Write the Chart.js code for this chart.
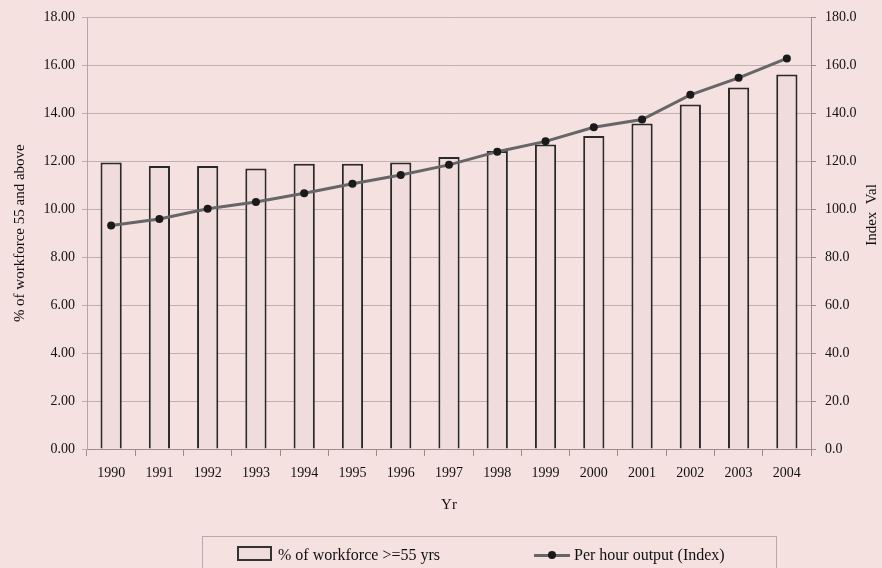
<!DOCTYPE html>
<html>
<head>
<meta charset="utf-8">
<script src="https://cdn.jsdelivr.net/npm/chart.js@4"></script>
<style>
  html, body { margin: 0; padding: 0; background: #f5e1e0; }
  #wrap { position: relative; width: 882px; height: 568px; }
  #legend {
    position: absolute; left: 202px; top: 536px; width: 575px; height: 40px;
    border: 1px solid #b9aaaa; box-sizing: border-box;
    font-family: "Liberation Serif", serif; font-size: 16px; color: #111;
  }
  .lg-item { position: absolute; top: 9px; white-space: nowrap; }
  .sw-bar { display: inline-block; width: 31px; height: 11px; border: 2px solid #333;
    background: #f0dcdb; vertical-align: -1px; margin-right: 6px; }
  .sw-line { display: inline-block; position: relative; width: 36px; height: 12px;
    vertical-align: -1px; margin-right: 4px; }
  .sw-line i { position: absolute; left: 0; right: 0; top: 5px; height: 3px; background: #666; }
  .sw-line b { position: absolute; left: 14px; top: 2px; width: 8px; height: 8px;
    border-radius: 50%; background: #1a1a1a; }
</style>
</head>
<body>
<div id="wrap">
  <canvas id="chart" width="882" height="568"></canvas>
  <div id="legend"></div>
</div>
<script>
// Workforce age share vs per hour output index, 1990-2004
var years = ["1990", "1991", "1992", "1993", "1994", "1995", "1996", "1997",
  "1998", "1999", "2000", "2001", "2002", "2003", "2004"];
var workforce55 = [11.95, 11.8, 11.8, 11.7, 11.9, 11.9, 11.95, 12.18,
  12.43, 12.7, 13.05, 13.57, 14.37, 15.08, 15.62];
var outputIndex = [93.2, 95.9, 100.2, 103.0, 106.7, 110.6, 114.3, 118.5,
  124.0, 128.3, 134.2, 137.4, 147.7, 154.8, 162.9];
var barLabel = "% of workforce >=55 yrs";
var lineLabel = "Per hour output (Index)";

var FONT = "'Liberation Serif', 'Times New Roman', serif";
var TEXT = "#111";
var GRID = "#bfafaf";

Chart.defaults.font.family = FONT;
Chart.defaults.color = TEXT;

// right axis title reads bottom-to-top, chart.js would rotate it the other way
var rightTitle = {
  id: "rightTitle",
  beforeDraw: function (chart) {
    var c = chart.ctx;
    c.save();
    c.fillStyle = "#f5e1e0";
    c.fillRect(0, 0, chart.width, chart.height);
    c.restore();
  },
  afterDraw: function (chart) {
    var c = chart.ctx;
    c.save();
    c.translate(872, 215);
    c.rotate(-Math.PI / 2);
    c.font = "15px " + FONT;
    c.fillStyle = TEXT;
    c.textAlign = "center";
    c.textBaseline = "middle";
    c.fillText("Index  Val", 0, 0);
    c.restore();
  }
};

new Chart(document.getElementById("chart").getContext("2d"), {
  type: "bar",
  data: {
    labels: years,
    datasets: [{
      type: "line",
      label: lineLabel,
      data: outputIndex,
      yAxisID: "y2",
      borderColor: "#666",
      borderWidth: 3,
      pointRadius: 4,
      pointBackgroundColor: "#1a1a1a",
      pointBorderColor: "#1a1a1a",
      pointBorderWidth: 0,
      tension: 0,
      order: 0
    }, {
      type: "bar",
      label: barLabel,
      data: workforce55,
      yAxisID: "y",
      backgroundColor: "#f0dcdb",
      borderColor: "#2a2a2a",
      borderWidth: 2,
      barPercentage: 0.88,
      categoryPercentage: 0.5,
      order: 1
    }]
  },
  options: {
    responsive: false,
    animation: false,
    layout: { padding: { left: 7, right: 0, top: 15, bottom: 50 } },
    plugins: { legend: { display: false }, tooltip: { enabled: false } },
    scales: {
      x: {
        offset: true,
        grid: { offset: true, drawOnChartArea: false, drawTicks: true, tickLength: 7, color: "#9c8c8c" },
        border: { color: "#9c8c8c" },
        ticks: { font: { size: 14 }, padding: 9, maxRotation: 0 },
        title: { display: true, text: "Yr", font: { size: 15 } },
        afterFit: function (s) { s.height = 69; }
      },
      y: {
        position: "left",
        min: 0, max: 18,
        ticks: { stepSize: 2, font: { size: 14 }, padding: 7,
          callback: function (v) { return v.toFixed(2); } },
        grid: { color: GRID, tickLength: 5 },
        border: { color: "#b5a5a5" },
        title: { display: true, text: "% of workforce 55 and above", font: { size: 15 } },
        afterFit: function (s) { s.width = 80; }
      },
      y2: {
        position: "right",
        min: 0, max: 180,
        ticks: { stepSize: 20, font: { size: 14 }, padding: 9,
          callback: function (v) { return v.toFixed(1); } },
        grid: { drawOnChartArea: false, color: "#9c8c8c", tickLength: 5 },
        border: { color: "#9c8c8c" },
        afterFit: function (s) { s.width = 71; }
      }
    }
  },
  plugins: [rightTitle]
});

// html legend
document.getElementById("legend").innerHTML =
  '<span class="lg-item" style="left:34px"><span class="sw-bar"></span>' + barLabel + '</span>' +
  '<span class="lg-item" style="left:331px"><span class="sw-line"><i></i><b></b></span>' + lineLabel + '</span>';
</script>
</body>
</html>
